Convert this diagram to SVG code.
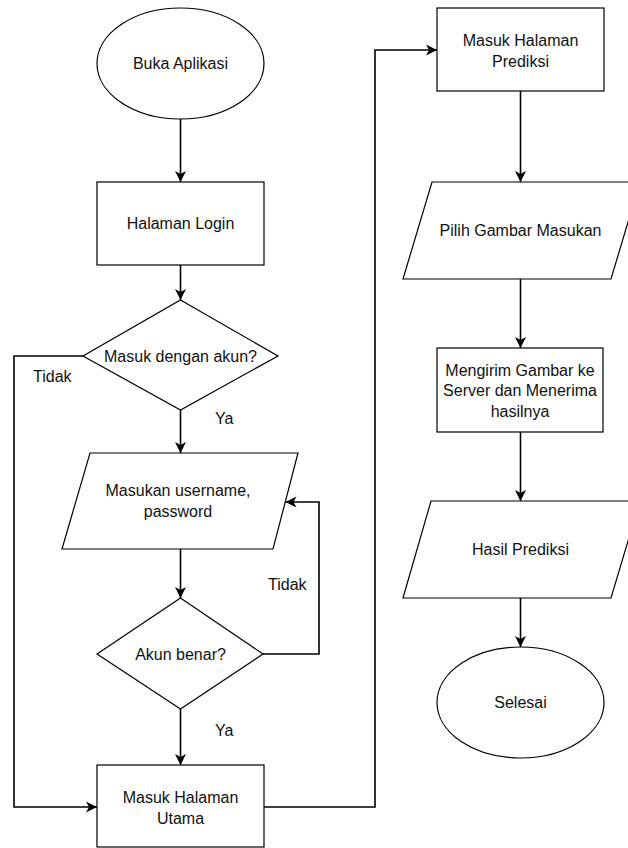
<svg xmlns="http://www.w3.org/2000/svg" width="628" height="848" viewBox="0 0 628 848">
  <style>
    .shape { fill: #ffffff; stroke: #000000; stroke-width: 1.2; }
    .edge { fill: none; stroke: #000000; stroke-width: 1.6; marker-end: url(#arrow); }
    text { font-family: "Liberation Sans", Arial, sans-serif; font-size: 16px; fill: #111111; }
    .c { text-anchor: middle; }
  </style>
  <defs>
    <marker id="arrow" markerUnits="userSpaceOnUse" markerWidth="12" markerHeight="12" refX="11" refY="6" orient="auto">
      <path d="M0,0.5 L11,6 L0,11.5 L3,6 Z" fill="#000000"/>
    </marker>
  </defs>
  <rect x="0" y="0" width="628" height="848" fill="#ffffff"/>

  <!-- connectors -->
  <g id="connectors">
    <path class="edge" d="M180.5,119 L180.5,182"/>
    <path class="edge" d="M180.5,265 L180.5,300"/>
    <path class="edge" d="M180.5,410 L180.5,453"/>
    <path class="edge" d="M180.5,549 L180.5,598"/>
    <path class="edge" d="M263,654 L319,654 L319,502 L285.5,502"/>
    <path class="edge" d="M180.5,709 L180.5,765"/>
    <path class="edge" d="M83,356 L14,356 L14,807 L97,807"/>
    <path class="edge" d="M264,807 L375,807 L375,50 L437,50"/>
    <path class="edge" d="M520.5,91 L520.5,182"/>
    <path class="edge" d="M520.5,279 L520.5,348"/>
    <path class="edge" d="M520.5,432 L520.5,501"/>
    <path class="edge" d="M520.5,598 L520.5,647"/>
    <text x="33" y="382">Tidak</text>
    <text x="215" y="424">Ya</text>
    <text x="268" y="590">Tidak</text>
    <text x="215" y="736">Ya</text>
  </g>

  <!-- left column -->
  <g id="buka-aplikasi">
    <ellipse class="shape" cx="180.5" cy="63.5" rx="83.5" ry="55.5"/>
    <text class="c" x="180.5" y="69">Buka Aplikasi</text>
  </g>
  <g id="halaman-login">
    <rect class="shape" x="97" y="182" width="167" height="83"/>
    <text class="c" x="180.5" y="229">Halaman Login</text>
  </g>
  <g id="masuk-dengan-akun">
    <polygon class="shape" points="180.5,300 278,356 180.5,410 83,356"/>
    <text class="c" x="180.5" y="362">Masuk dengan akun?</text>
  </g>
  <g id="masukan-username">
    <polygon class="shape" points="90,453 298,453 273,549 62,549"/>
    <text class="c" x="178" y="496">Masukan username,</text>
    <text class="c" x="178" y="517">password</text>
  </g>
  <g id="akun-benar">
    <polygon class="shape" points="180.5,598 263,654 180.5,709 97,654"/>
    <text class="c" x="180.5" y="660">Akun benar?</text>
  </g>
  <g id="masuk-halaman-utama">
    <rect class="shape" x="97" y="765" width="167" height="82"/>
    <text class="c" x="180.5" y="803">Masuk Halaman</text>
    <text class="c" x="180.5" y="824">Utama</text>
  </g>

  <!-- right column -->
  <g id="masuk-halaman-prediksi">
    <rect class="shape" x="437" y="8" width="167" height="83"/>
    <text class="c" x="520.5" y="46">Masuk Halaman</text>
    <text class="c" x="520.5" y="67">Prediksi</text>
  </g>
  <g id="pilih-gambar">
    <polygon class="shape" points="432,182 640,182 611,279 403,279"/>
    <text class="c" x="520.5" y="236">Pilih Gambar Masukan</text>
  </g>
  <g id="mengirim-gambar">
    <rect class="shape" x="437" y="348" width="166" height="84"/>
    <text class="c" x="520" y="376">Mengirim Gambar ke</text>
    <text class="c" x="520" y="396">Server dan Menerima</text>
    <text class="c" x="520" y="417">hasilnya</text>
  </g>
  <g id="hasil-prediksi">
    <polygon class="shape" points="431,501 640,501 611,598 403,598"/>
    <text class="c" x="520.5" y="555">Hasil Prediksi</text>
  </g>
  <g id="selesai">
    <ellipse class="shape" cx="520.5" cy="702.5" rx="83.5" ry="55.5"/>
    <text class="c" x="520.5" y="708">Selesai</text>
  </g>
</svg>
